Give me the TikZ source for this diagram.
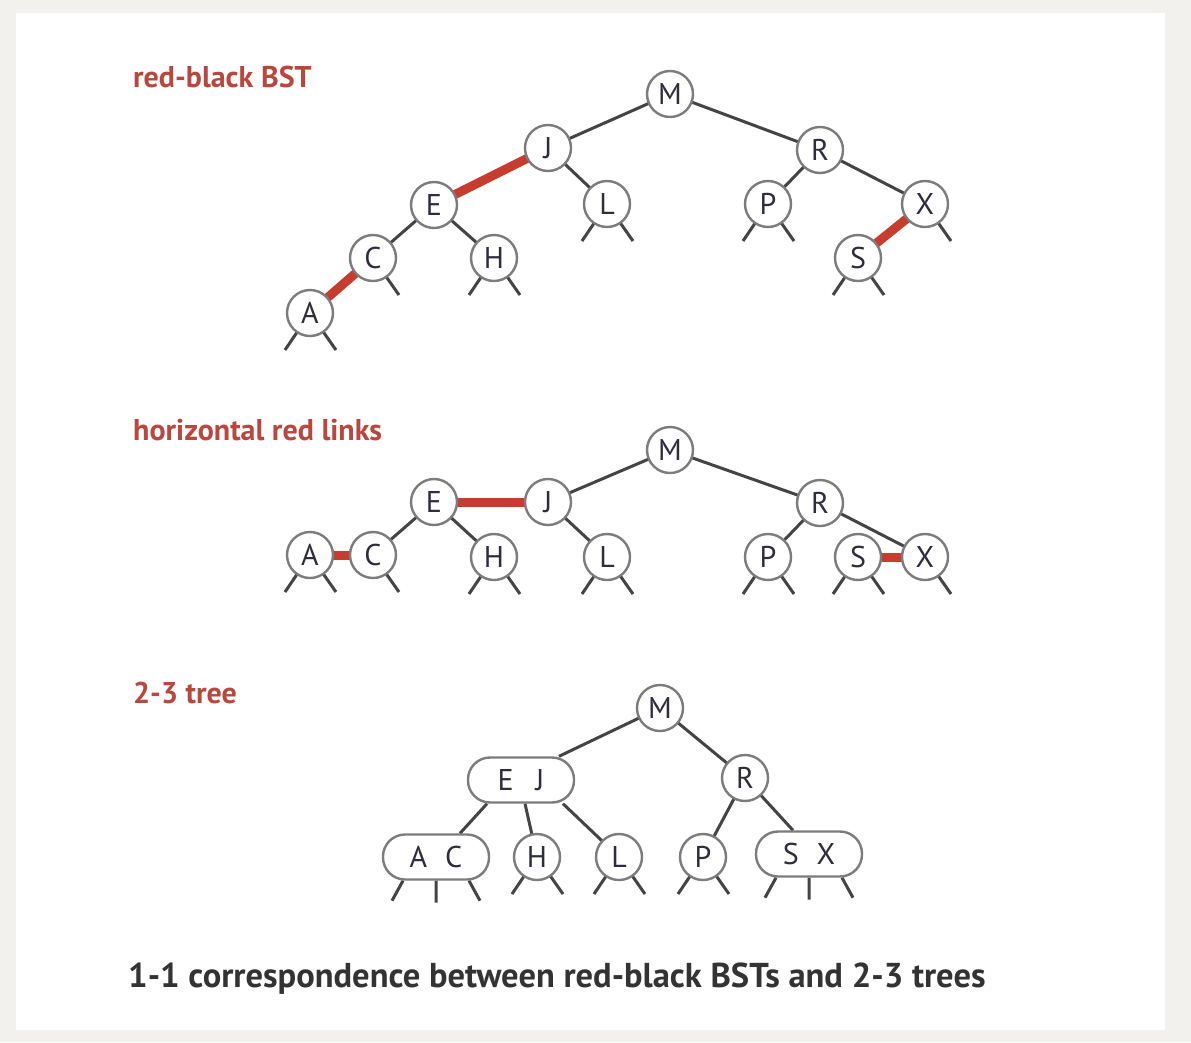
\documentclass[tikz,border=0pt]{standalone}
\usepackage{fontspec}
\setmainfont{PT Sans}
\usetikzlibrary{positioning}
\definecolor{rbred}{HTML}{C63C2F}
\definecolor{titlered}{HTML}{B9473D}
\definecolor{linkgray}{HTML}{444444}
\definecolor{keytext}{HTML}{2E2E3A}
\definecolor{panelgray}{HTML}{F2F1EE}
\pgfdeclarelayer{bg}
\pgfsetlayers{bg,main}

\begin{document}
\begin{tikzpicture}[x=1pt,y=-1pt,
    key/.style={circle,draw=linkgray!70,line width=2.4pt,fill=white,
      minimum size=46pt,inner sep=0pt,text=keytext,
      font=\fontsize{30}{30}\selectfont},
    keytwo/.style={key,rectangle,rounded corners=22pt,minimum width=106pt,
      minimum height=45pt},
    link/.style={draw=linkgray,line width=3pt},
    redlink/.style={draw=rbred,line width=9pt},
    nil/.style={draw=linkgray,line width=3pt},
    title/.style={anchor=base west,text=titlered,inner sep=0pt,
      font=\bfseries\fontsize{30}{30}\selectfont}]

  \useasboundingbox (0,0) rectangle (1191,1042);

  % red-black BST
  \node[title] (t1) at (133,87) {red-black BST};
  \node[key] (M1) at (670,94)  {M};
  \node[key] (J1) at (548,148) {J};
  \node[key] (R1) at (820,150) {R};
  \node[key] (E1) at (434,205) {E};
  \node[key] (L1) at (607,204) {L};
  \node[key] (P1) at (768,204) {P};
  \node[key] (X1) at (925,204) {X};
  \node[key] (C1) at (373,258) {C};
  \node[key] (H1) at (494,258) {H};
  \node[key] (S1) at (858,258) {S};
  \node[key] (A1) at (310,313) {A};

  % horizontal red links
  \node[title] (t2) at (133,440) {horizontal red links};
  \node[key] (M2) at (670,450) {M};
  \node[key] (J2) at (548,502) {J};
  \node[key] (E2) at (434,502) {E};
  \node[key] (R2) at (820,503) {R};
  \node[key] (A2) at (310,555) {A};
  \node[key] (C2) at (373,555) {C};
  \node[key] (H2) at (494,557) {H};
  \node[key] (L2) at (607,557) {L};
  \node[key] (P2) at (768,557) {P};
  \node[key] (S2) at (858,557) {S};
  \node[key] (X2) at (925,557) {X};

  % 2-3 tree
  \node[title] (t3) at (133,703) {2-3 tree};
  \node[key]    (M3)  at (660,708) {M};
  \node[keytwo] (EJ3) at (521,780) {E\hskip 22pt J};
  \node[key]    (R3)  at (745,778) {R};
  \node[keytwo] (AC3) at (436,857) {A\hskip 18pt C};
  \node[key]    (H3)  at (537,857) {H};
  \node[key]    (L3)  at (619,857) {L};
  \node[key]    (P3)  at (703,857) {P};
  \node[keytwo] (SX3) at (809,854) {S\hskip 18pt X};

  \node[anchor=base west,inner sep=0pt,text=black!80,
    font=\bfseries\fontsize{34.5}{34.5}\selectfont] (cap) at (128,987)
    {1-1 correspondence between red-black BSTs and 2-3 trees};

  \begin{pgfonlayer}{bg}
  \fill[panelgray] (0,0) rectangle (1191,1042);
  \fill[white] (16,13) rectangle (1165,1030);

  \path (M1.center) edge[link] (J1.center)
        (M1.center) edge[link] (R1.center)
        (J1.center) edge[redlink] (E1.center)
        (J1.center) edge[link] (L1.center)
        (E1.center) edge[link] (C1.center)
        (E1.center) edge[link] (H1.center)
        (C1.center) edge[redlink] (A1.center)
        (R1.center) edge[link] (P1.center)
        (R1.center) edge[link] (X1.center)
        (X1.center) edge[redlink] (S1.center);

  \path (M2.center) edge[link] (J2.center)
        (M2.center) edge[link] (R2.center)
        (E2.center) edge[redlink] (J2.center)
        (J2.center) edge[link] (L2.center)
        (E2.center) edge[link] (C2.center)
        (E2.center) edge[link] (H2.center)
        (A2.center) edge[redlink] (C2.center)
        (R2.center) edge[link] (P2.center)
        (R2.center) edge[link] (X2.center)
        (S2.center) edge[redlink] (X2.center);

  \path (M3.center) edge[link] ([xshift=38]EJ3.north)
        (M3.center) edge[link] (R3.center)
        ([xshift=-34]EJ3.south) edge[link] ([xshift=24]AC3.north)
        ([xshift=4]EJ3.south) edge[link] (H3.center)
        ([xshift=42]EJ3.south) edge[link] (L3.center)
        (R3.center) edge[link] (P3.center)
        (R3.center) edge[link] ([xshift=-16]SX3.north);

  % null links
  \foreach \n in {A1,H1,L1,P1,S1,A2,H2,L2,P2,S2,H3,L3,P3}
    \draw[nil] (\n.center) -- ++(-25,37) (\n.center) -- ++(26,37);
  \foreach \n in {C1,X1,C2,X2}
    \draw[nil] (\n.center) -- ++(26,37);
  \foreach \n in {AC3,SX3}
    \draw[nil] ([xshift=-33]\n.south) -- ++(-11,20)
               (\n.south) -- ++(0,22)
               ([xshift=33]\n.south) -- ++(11,20);
  \end{pgfonlayer}
\end{tikzpicture}
\end{document}
